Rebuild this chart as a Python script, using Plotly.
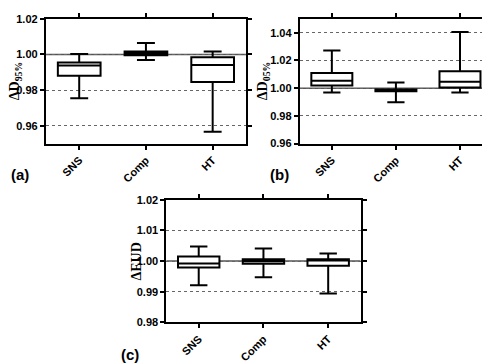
import plotly.graph_objects as go

categories = ["SNS", "Comp", "HT"]

# Panel (a) ΔD95%
a_low = [0.9755, 0.9969, 0.9566]
a_q1 = [0.9880, 0.9995, 0.9845]
a_med = [0.9938, 1.0005, 0.9941]
a_q3 = [0.9955, 1.0016, 0.9985]
a_high = [1.0003, 1.0064, 1.0016]

# Panel (b) ΔD05%
b_low = [0.9968, 0.9899, 0.9968]
b_q1 = [1.0019, 0.9977, 1.0005]
b_med = [1.0053, 0.9982, 1.0046]
b_q3 = [1.0109, 0.9990, 1.0121]
b_high = [1.0271, 1.0040, 1.0405]

# Panel (c) ΔEUD
c_low = [0.9921, 0.9947, 0.9894]
c_q1 = [0.9979, 0.9991, 0.9985]
c_med = [0.9992, 0.9999, 1.0002]
c_q3 = [1.0015, 1.0006, 1.0006]
c_high = [1.0047, 1.0041, 1.0025]

W, H = 490, 363

fig = go.Figure()

panels = [
    ("x", "y", a_low, a_q1, a_med, a_q3, a_high),
    ("x2", "y2", b_low, b_q1, b_med, b_q3, b_high),
    ("x3", "y3", c_low, c_q1, c_med, c_q3, c_high),
]
for xa, ya, lo, q1, md, q3, hi in panels:
    fig.add_trace(go.Box(
        x=categories, lowerfence=lo, q1=q1, median=md, q3=q3, upperfence=hi,
        xaxis=xa, yaxis=ya, line=dict(color="black", width=2), fillcolor="white",
        whiskerwidth=0.42, width=0.64, boxpoints=False, showlegend=False,
        hoverinfo="skip",
    ))

tickfont = dict(family="Liberation Sans, Arial", size=11, color="black", weight="bold")

def xax(domain, anchor):
    return dict(domain=domain, anchor=anchor, type="category",
                showline=True, linewidth=2, linecolor="black", mirror="allticks",
                ticks="outside", ticklen=4, tickwidth=1.5, tickcolor="black",
                tickangle=-45, tickfont=tickfont, showgrid=False, zeroline=False,
                range=[-0.5, 2.5], fixedrange=True)

def yax(domain, anchor, rng, dtick):
    return dict(domain=domain, anchor=anchor, range=rng, dtick=dtick,
                tickformat=".2f", showline=True, linewidth=2, linecolor="black",
                mirror="allticks", ticks="outside", ticklen=4, tickwidth=1.5,
                tickcolor="black", tickfont=tickfont, showgrid=True,
                gridcolor="#666666", griddash="dot", gridwidth=1, zeroline=False)

def px(v):
    return v / W

def py(v):
    return 1 - v / H

fig.update_layout(
    width=W, height=H, margin=dict(l=0, r=0, t=0, b=0),
    paper_bgcolor="white", plot_bgcolor="white",
    xaxis=xax([px(38), px(239)], "y"),
    yaxis=yax([py(134), py(5)], "x", [0.95, 1.02], 0.02),
    xaxis2=xax([px(293), px(486)], "y2"),
    yaxis2=yax([py(134), py(5)], "x2", [0.96, 1.05], 0.02),
    xaxis3=xax([px(159), px(354)], "y3"),
    yaxis3=yax([py(319), py(192)], "x3", [0.98, 1.02], 0.01),
)
fig.update_yaxes(tick0=1.0)

for xr, yr in [("x", "y"), ("x2", "y2"), ("x3", "y3")]:
    fig.add_shape(type="line", xref=f"{xr} domain", yref=yr, x0=0, x1=1, y0=1.0, y1=1.0,
                  line=dict(color="#555555", width=1.5), layer="below")

serif = dict(family="Liberation Serif, Times New Roman", size=14, color="black")
labs = [
    ("<b>ΔD<sub>95%</sub></b>", px(7), (py(134) + py(5)) / 2),
    ("<b>ΔD<sub>05%</sub></b>", px(256), (py(134) + py(5)) / 2),
    ("<b>ΔEUD</b>", px(129), (py(319) + py(192)) / 2),
]
for t, x, y in labs:
    fig.add_annotation(text=t, x=x, y=y, xref="paper", yref="paper", showarrow=False,
                       textangle=-90, font=serif, xanchor="center", yanchor="middle")

plab = dict(family="Liberation Sans, Arial", size=15, color="black", weight="bold")
for t, x, y in [("(a)", 1, 166), ("(b)", 261, 166), ("(c)", 111, 352)]:
    fig.add_annotation(text=t, x=px(x), y=py(y), xref="paper", yref="paper", showarrow=False,
                       font=plab, xanchor="left", yanchor="middle")

fig.write_html("out.html")
